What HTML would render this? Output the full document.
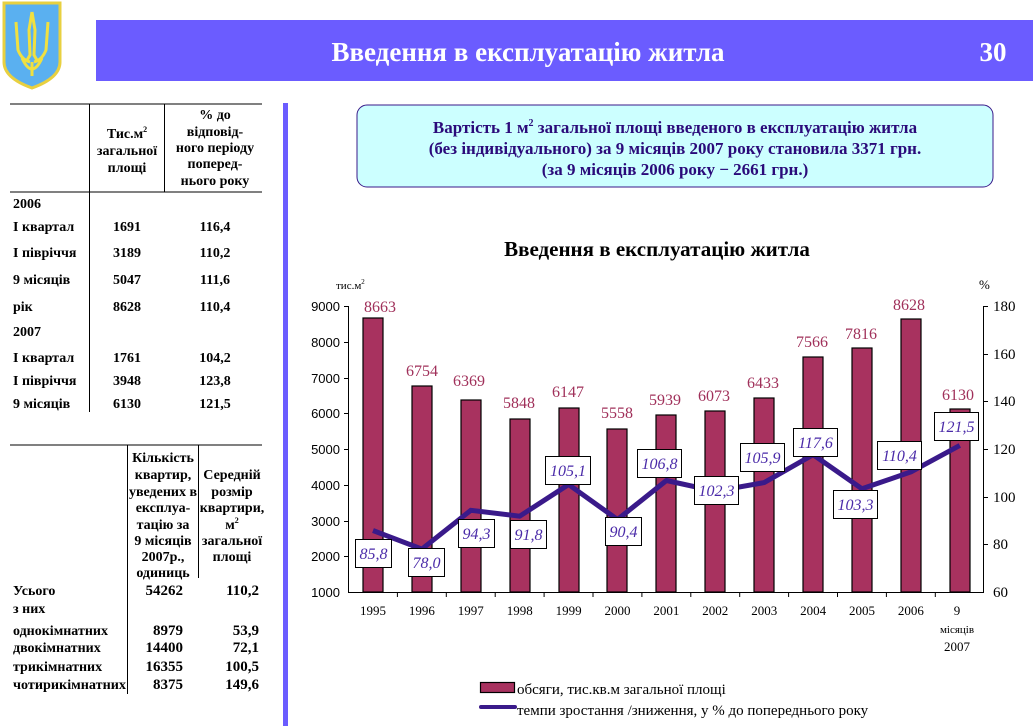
<!DOCTYPE html>
<html><head><meta charset="utf-8"><style>
html,body{margin:0;padding:0;background:#fff;}
svg{display:block;}
.s{font-family:"Liberation Serif","DejaVu Serif",serif;}
.b{font-weight:bold;}
</style></head><body>
<svg width="1033" height="726" viewBox="0 0 1033 726" xmlns="http://www.w3.org/2000/svg" class="s">
<path d="M4,3 L60,3 L60,62 Q60,78 32,88 Q4,78 4,62 Z" fill="#5ab0f0" stroke="#e8d040" stroke-width="3"/>
<path d="M32,12 L29,30 L30,55 L26,62 M32,12 L35,30 L34,55 L38,62 M16,22 L18,50 Q22,60 30,62 M48,22 L46,50 Q42,60 34,62 M22,58 Q32,80 42,58 M32,62 L32,76" fill="none" stroke="#f0e040" stroke-width="3"/>
<rect x="96" y="20" width="937" height="61" fill="#6b5cff"/>
<text x="528" y="61" text-anchor="middle" fill="#fff" font-size="27" class="b">Введення в експлуатацію житла</text>
<text x="993" y="61" text-anchor="middle" fill="#fff" font-size="27" class="b">30</text>
<rect x="283" y="103" width="5" height="623" fill="#6b5cff"/>
<g font-size="14" class="b" fill="#000">
<line x1="10" y1="104" x2="262" y2="104" stroke="#000"/>
<line x1="10" y1="192" x2="262" y2="192" stroke="#000"/>
<line x1="89.5" y1="104" x2="89.5" y2="412" stroke="#000"/>
<line x1="164.5" y1="104" x2="164.5" y2="192" stroke="#000"/>
<g text-anchor="middle">
<text x="127" y="138">Тис.м<tspan font-size="8" dy="-6">2</tspan></text>
<text x="127" y="155">загальної</text>
<text x="127" y="172">площі</text>
<text x="215" y="119">% до</text>
<text x="215" y="136">відповід-</text>
<text x="215" y="152">ного  періоду</text>
<text x="215" y="168">поперед-</text>
<text x="215" y="185">нього року</text>
</g>
<text x="13" y="208">2006</text>
<text x="13" y="231">І квартал</text>
<text x="13" y="257">І півріччя</text>
<text x="13" y="284">9 місяців</text>
<text x="13" y="311">рік</text>
<text x="13" y="336">2007</text>
<text x="13" y="362">І квартал</text>
<text x="13" y="385">І півріччя</text>
<text x="13" y="408">9 місяців</text>
<g text-anchor="middle">
<text x="127" y="231">1691</text><text x="215" y="231">116,4</text>
<text x="127" y="257">3189</text><text x="215" y="257">110,2</text>
<text x="127" y="284">5047</text><text x="215" y="284">111,6</text>
<text x="127" y="311">8628</text><text x="215" y="311">110,4</text>
<text x="127" y="362">1761</text><text x="215" y="362">104,2</text>
<text x="127" y="385">3948</text><text x="215" y="385">123,8</text>
<text x="127" y="408">6130</text><text x="215" y="408">121,5</text>
</g>
</g>
<g font-size="14" class="b" fill="#000">
<line x1="10" y1="445" x2="262" y2="445" stroke="#000"/>
<line x1="127.5" y1="445" x2="127.5" y2="694" stroke="#000"/>
<line x1="198.5" y1="445" x2="198.5" y2="578" stroke="#000"/>
<g text-anchor="middle">
<text x="163" y="462">Кількість</text>
<text x="163" y="479">квартир,</text>
<text x="163" y="496">уведених в</text>
<text x="163" y="512">експлуа-</text>
<text x="163" y="529">тацію  за</text>
<text x="163" y="545">9 місяців</text>
<text x="163" y="561">2007р.,</text>
<text x="163" y="577">одиниць</text>
<text x="232" y="479">Середній</text>
<text x="232" y="496">розмір</text>
<text x="232" y="512">квартири,</text>
<text x="232" y="529">м<tspan font-size="8" dy="-6">2</tspan></text>
<text x="232" y="545">загальної</text>
<text x="232" y="561">площі</text>
</g>
<text x="13" y="595">Усього</text>
<text x="13" y="613">з них</text>
<text x="13" y="635">однокімнатних</text>
<text x="13" y="652">двокімнатних</text>
<text x="13" y="671">трикімнатних</text>
<text x="13" y="689" textLength="113" lengthAdjust="spacingAndGlyphs">чотирикімнатних</text>
<g text-anchor="end" font-size="15">
<text x="183" y="595">54262</text><text x="259" y="595">110,2</text>
<text x="183" y="635">8979</text><text x="259" y="635">53,9</text>
<text x="183" y="652">14400</text><text x="259" y="652">72,1</text>
<text x="183" y="671">16355</text><text x="259" y="671">100,5</text>
<text x="183" y="689">8375</text><text x="259" y="689">149,6</text>
</g>
</g>
<rect x="357" y="105" width="636" height="82" rx="10" fill="#ccffff" stroke="#3a1a8a" stroke-width="1"/>
<g font-size="17" class="b" fill="#2a0a7a" text-anchor="middle">
<text x="675" y="133">Вартість 1 м<tspan font-size="10" dy="-7">2</tspan><tspan dy="7"> загальної площі введеного в експлуатацію житла</tspan></text>
<text x="675" y="154">(без індивідуального) за 9 місяців 2007 року становила 3371 грн.</text>
<text x="675" y="175">(за 9 місяців 2006 року − 2661 грн.)</text>
</g>
<text x="657" y="256" text-anchor="middle" font-size="21" class="b">Введення в експлуатацію житла</text>
<text x="336" y="289" font-size="11">тис.м<tspan font-size="7" dy="-5">2</tspan></text>
<text x="979" y="289" font-size="13">%</text>
<g stroke="#000" stroke-width="1">
<line x1="348.5" y1="306" x2="348.5" y2="592"/>
<line x1="983.5" y1="306" x2="983.5" y2="592"/>
<line x1="348" y1="592.5" x2="984" y2="592.5"/>
</g>
<g stroke="#000">
<line x1="344" y1="306.5" x2="348" y2="306.5"/><line x1="344" y1="342.5" x2="348" y2="342.5"/><line x1="344" y1="378.5" x2="348" y2="378.5"/><line x1="344" y1="413.5" x2="348" y2="413.5"/><line x1="344" y1="449.5" x2="348" y2="449.5"/><line x1="344" y1="485.5" x2="348" y2="485.5"/><line x1="344" y1="521.5" x2="348" y2="521.5"/><line x1="344" y1="556.5" x2="348" y2="556.5"/>
<line x1="984" y1="306.5" x2="988" y2="306.5"/><line x1="984" y1="354.5" x2="988" y2="354.5"/><line x1="984" y1="401.5" x2="988" y2="401.5"/><line x1="984" y1="449.5" x2="988" y2="449.5"/><line x1="984" y1="497.5" x2="988" y2="497.5"/><line x1="984" y1="544.5" x2="988" y2="544.5"/>
<line x1="397.4" y1="592" x2="397.4" y2="597"/><line x1="446.3" y1="592" x2="446.3" y2="597"/><line x1="495.2" y1="592" x2="495.2" y2="597"/><line x1="544.1" y1="592" x2="544.1" y2="597"/><line x1="593" y1="592" x2="593" y2="597"/><line x1="641.9" y1="592" x2="641.9" y2="597"/><line x1="690.8" y1="592" x2="690.8" y2="597"/><line x1="739.7" y1="592" x2="739.7" y2="597"/><line x1="788.6" y1="592" x2="788.6" y2="597"/><line x1="837.5" y1="592" x2="837.5" y2="597"/><line x1="886.4" y1="592" x2="886.4" y2="597"/><line x1="935.3" y1="592" x2="935.3" y2="597"/>
</g>
<g font-family="Liberation Sans, sans-serif" font-size="13" text-anchor="end">
<text x="340" y="311">9000</text><text x="340" y="347">8000</text><text x="340" y="383">7000</text><text x="340" y="418">6000</text><text x="340" y="454">5000</text><text x="340" y="490">4000</text><text x="340" y="526">3000</text><text x="340" y="561">2000</text><text x="340" y="597">1000</text>
</g>
<g font-size="15">
<text x="993" y="311">180</text><text x="993" y="359">160</text><text x="993" y="406">140</text><text x="993" y="454">120</text><text x="993" y="502">100</text><text x="993" y="549">80</text><text x="993" y="597">60</text>
</g>
<g font-size="13" text-anchor="middle">
<text x="373" y="615">1995</text><text x="421.9" y="615">1996</text><text x="470.8" y="615">1997</text><text x="519.7" y="615">1998</text><text x="568.6" y="615">1999</text><text x="617.5" y="615">2000</text><text x="666.4" y="615">2001</text><text x="715.3" y="615">2002</text><text x="764.2" y="615">2003</text><text x="813.1" y="615">2004</text><text x="862" y="615">2005</text><text x="910.9" y="615">2006</text>
<text x="957" y="615">9</text><text x="957" y="633" font-size="11">місяців</text><text x="957" y="651">2007</text>
</g>
<g fill="#a8325f" stroke="#000" stroke-width="1.2">
<rect x="363" y="318" width="20" height="274"/>
<rect x="412" y="386" width="20" height="206"/>
<rect x="461" y="400" width="20" height="192"/>
<rect x="510" y="419" width="20" height="173"/>
<rect x="559" y="408" width="20" height="184"/>
<rect x="607" y="429" width="20" height="163"/>
<rect x="656" y="415" width="20" height="177"/>
<rect x="705" y="411" width="20" height="181"/>
<rect x="754" y="398" width="20" height="194"/>
<rect x="803" y="357" width="20" height="235"/>
<rect x="852" y="348" width="20" height="244"/>
<rect x="901" y="319" width="20" height="273"/>
<rect x="950" y="409" width="20" height="183"/>
</g>
<g font-size="16" fill="#a0305a" text-anchor="middle">
<text x="380" y="312">8663</text><text x="422" y="376">6754</text><text x="469" y="386">6369</text><text x="519" y="408">5848</text><text x="568" y="397">6147</text><text x="617" y="418">5558</text><text x="665" y="405">5939</text><text x="714" y="401">6073</text><text x="763" y="388">6433</text><text x="812" y="347">7566</text><text x="861" y="339">7816</text><text x="909" y="310">8628</text><text x="958" y="400">6130</text>
</g>
<polyline points="373,530.5 421.9,549.1 470.8,510.3 519.7,516.2 568.6,484.5 617.5,519.5 666.4,480.5 715.3,491.2 764.2,482.6 813.1,454.7 862,488.8 910.9,471.9 959.8,445.4" fill="none" stroke="#3a1a8a" stroke-width="5" stroke-linejoin="round"/>
<g fill="#fff" stroke="#000" stroke-width="1">
<rect x="355.5" y="539.5" width="36" height="28"/>
<rect x="408.5" y="548.5" width="36" height="28"/>
<rect x="458.5" y="519.5" width="36" height="28"/>
<rect x="510.5" y="520.5" width="36" height="28"/>
<rect x="545.5" y="456.5" width="45" height="28"/>
<rect x="605.5" y="517.5" width="36" height="28"/>
<rect x="637.5" y="449.5" width="44" height="28"/>
<rect x="694.5" y="476.5" width="44" height="28"/>
<rect x="740.5" y="443.5" width="44" height="28"/>
<rect x="793.5" y="428.5" width="44" height="28"/>
<rect x="833.5" y="490.5" width="44" height="28"/>
<rect x="877.5" y="441.5" width="44" height="28"/>
<rect x="934.5" y="412.5" width="44" height="28"/>
</g>
<g font-size="16" font-style="italic" fill="#4a2aa8" text-anchor="middle">
<text x="373.5" y="559">85,8</text><text x="426.5" y="568">78,0</text><text x="476.5" y="539">94,3</text><text x="528.5" y="540">91,8</text><text x="568" y="476">105,1</text><text x="623.5" y="537">90,4</text><text x="659.5" y="469">106,8</text><text x="716.5" y="496">102,3</text><text x="762.5" y="463">105,9</text><text x="815.5" y="448">117,6</text><text x="855.5" y="510">103,3</text><text x="899.5" y="461">110,4</text><text x="956.5" y="432">121,5</text>
</g>
<rect x="480.5" y="682.5" width="34" height="10" fill="#a8325f" stroke="#000" stroke-width="1.2"/>
<text x="517" y="694" font-size="15">обсяги, тис.кв.м загальної площі</text>
<line x1="481" y1="707" x2="515" y2="707" stroke="#3a1a8a" stroke-width="4" stroke-linecap="round"/>
<text x="517" y="715" font-size="15">темпи зростання /зниження, у % до попереднього року</text>
</svg>
</body></html>
